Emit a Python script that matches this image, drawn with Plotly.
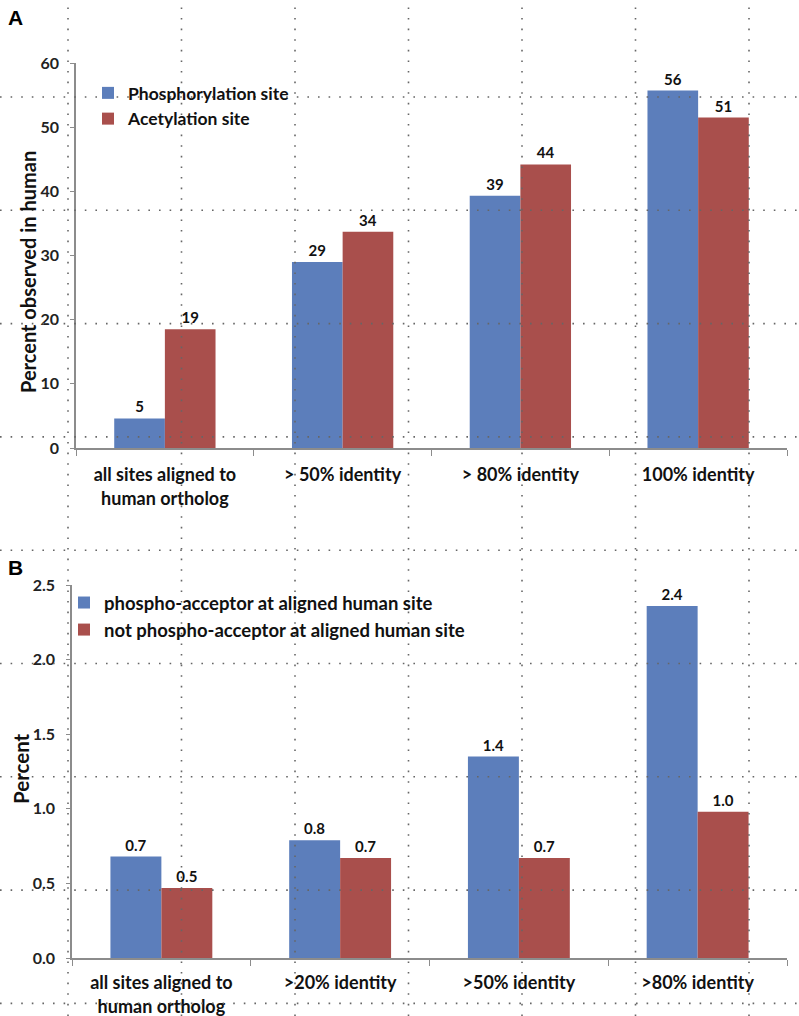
import plotly.graph_objects as go

W, H = 799, 1016

# ---- Panel A data ----
cats_a = ["all sites aligned to<br>human ortholog", "> 50% identity", "> 80% identity", "100% identity"]
phospho_a = [4.6, 29.0, 39.3, 55.7]
acetyl_a = [18.5, 33.7, 44.2, 51.5]
phospho_a_lbl = ["5", "29", "39", "56"]
acetyl_a_lbl = ["19", "34", "44", "51"]
yticks_a = [0, 10, 20, 30, 40, 50, 60]

# ---- Panel B data ----
cats_b = ["all sites aligned to<br>human ortholog", ">20% identity", ">50% identity", ">80% identity"]
acceptor_b = [0.68, 0.79, 1.35, 2.36]
not_acceptor_b = [0.47, 0.67, 0.67, 0.98]
acceptor_b_lbl = ["0.7", "0.8", "1.4", "2.4"]
not_acceptor_b_lbl = ["0.5", "0.7", "0.7", "1.0"]
yticks_b = [0.0, 0.5, 1.0, 1.5, 2.0, 2.5]

BLUE = "#5C7EBB"
RED = "#A94F4C"
FONT = "Lato"
AX = "#8C8C8C"
TXT = "#111111"


def px_x(p):
    return p / W


def px_y(p):
    return 1 - p / H


def bfont(size, color=TXT, family=FONT):
    return dict(family=family, size=size, color=color, weight="bold")


fig = go.Figure()

series = [
    (cats_a, phospho_a, phospho_a_lbl, "Phosphorylation site", BLUE, "x", "y", "legend"),
    (cats_a, acetyl_a, acetyl_a_lbl, "Acetylation site", RED, "x", "y", "legend"),
    (cats_b, acceptor_b, acceptor_b_lbl, "phospho-acceptor at aligned human site", BLUE, "x2", "y2", "legend2"),
    (cats_b, not_acceptor_b, not_acceptor_b_lbl, "not phospho-acceptor at aligned human site", RED, "x2", "y2", "legend2"),
]
for cats, vals, lbls, name, col, xa, ya, lg in series:
    fig.add_trace(go.Bar(x=cats, y=vals, name=name, marker=dict(color=col, line=dict(width=0)),
                         text=lbls, textposition="outside", cliponaxis=False,
                         textfont=bfont(15), xaxis=xa, yaxis=ya, legend=lg))

xcommon = dict(showline=True, linecolor=AX, linewidth=1.5, ticks="outside", tickcolor=AX, ticklen=6,
               tickson="boundaries", tickfont=bfont(18), automargin=False,
               showgrid=False, zeroline=False)
ycommon = dict(showline=True, linecolor=AX, linewidth=1.5, ticks="outside", tickcolor=AX, ticklen=4,
               tickfont=bfont(16, "#222"), ticklabelstandoff=8, automargin=False,
               showgrid=False, zeroline=False)

fig.update_layout(
    width=W, height=H, margin=dict(l=0, r=0, t=0, b=0, pad=0, autoexpand=False),
    plot_bgcolor="white", paper_bgcolor="white",
    barmode="group", bargap=0.43, bargroupgap=0,
    xaxis=dict(domain=[px_x(76), px_x(787)], anchor="y", ticklabelstandoff=10, **xcommon),
    yaxis=dict(domain=[px_y(448), px_y(63)], anchor="x", range=[0, 60], tickvals=yticks_a, **ycommon),
    xaxis2=dict(domain=[px_x(72), px_x(787)], anchor="y2", ticklabelstandoff=8, **xcommon),
    yaxis2=dict(domain=[px_y(958), px_y(585)], anchor="x2", range=[0, 2.5], tickvals=yticks_b,
                tickformat=".1f", **ycommon),
    legend=dict(x=px_x(88), y=px_y(75), xanchor="left", yanchor="top", bgcolor="rgba(0,0,0,0)",
                font=bfont(17.5), tracegroupgap=0),
    legend2=dict(x=px_x(64), y=px_y(584), xanchor="left", yanchor="top", bgcolor="rgba(0,0,0,0)",
                 font=bfont(18.5), tracegroupgap=0),
    showlegend=True,
)

# Axis titles (rotated)
fig.add_annotation(text="Percent observed in human", x=px_x(28), y=px_y(272), xref="paper", yref="paper",
                   showarrow=False, textangle=-90, xanchor="center", yanchor="middle", font=bfont(20))
fig.add_annotation(text="Percent", x=px_x(21), y=px_y(769), xref="paper", yref="paper",
                   showarrow=False, textangle=-90, xanchor="center", yanchor="middle", font=bfont(20.5))

# Panel letters
for letter, ypx in (("A", 18), ("B", 567)):
    fig.add_annotation(text=letter, x=px_x(6), y=px_y(ypx), xref="paper", yref="paper", showarrow=False,
                       xanchor="left", yanchor="middle", font=bfont(21, "#000", "Liberation Sans"))

# Dotted page grid overlay
vx = [68 + 113.5 * i for i in range(7)]
hy = [97 + 113.3 * i for i in range(9)]
dot = dict(color="#666", width=1.6, dash="1.6px,9px")
for x in vx:
    fig.add_shape(type="line", xref="paper", yref="paper", x0=px_x(x), x1=px_x(x), y0=0, y1=1,
                  line=dot, layer="above")
for y in hy:
    fig.add_shape(type="line", xref="paper", yref="paper", x0=0, x1=1, y0=px_y(y), y1=px_y(y),
                  line=dot, layer="above")

fig.write_html("out.html", config={"displayModeBar": False},
               post_script="document.body.style.margin='0';document.body.style.overflow='hidden';")
